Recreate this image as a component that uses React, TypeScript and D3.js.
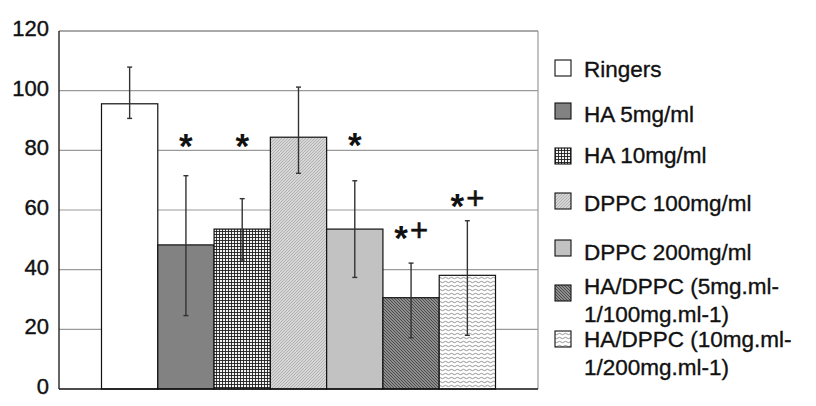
import React from "react";
import * as d3 from "d3";

// ---- data ----
const categories = [
  "Ringers",
  "HA 5mg/ml",
  "HA 10mg/ml",
  "DPPC 100mg/ml",
  "DPPC 200mg/ml",
  "HA/DPPC (5mg.ml-1/100mg.ml-1)",
  "HA/DPPC (10mg.ml-1/200mg.ml-1)",
];
const legendLines = [
  ["Ringers"],
  ["HA 5mg/ml"],
  ["HA 10mg/ml"],
  ["DPPC 100mg/ml"],
  ["DPPC 200mg/ml"],
  ["HA/DPPC (5mg.ml-", "1/100mg.ml-1)"],
  ["HA/DPPC (10mg.ml-", "1/200mg.ml-1)"],
];
const means = [95.6, 48.3, 53.6, 84.4, 53.6, 30.6, 38.1];
const errHigh = [107.9, 71.5, 63.8, 101.2, 69.8, 42.2, 56.4];
const errLow = [90.7, 24.6, 43.2, 72.3, 37.4, 17.2, 18.0];
const annotations = ["", "*", "*", "", "*", "*+", "*+"];
const annotationLevels = [0, 83.8, 83.8, 0, 84.1, 53.0, 63.7];
const yTicks = [0, 20, 40, 60, 80, 100, 120];

// ---- layout (not data) ----
const W = 816;
const H = 406;
const PL = 59;
const PR = 538;
const PT = 31;
const PB = 389;
const legendBaseY = [76.7, 121.7, 163, 210.7, 260, 294, 347];
const legendBoxY = [60, 103, 148, 193, 240, 285, 331];
const legendLineGap = [0, 0, 0, 0, 0, 27.5, 27.5];
const fills = [
  "#ffffff",
  "#828282",
  "url(#pGrid)",
  "url(#pLightHatch)",
  "#c2c2c2",
  "url(#pDarkHatch)",
  "url(#pWave)",
];
const FONT = "'Liberation Sans', Arial, Helvetica, sans-serif";

export default function App() {
  const x = d3
    .scaleBand<string>()
    .domain(categories)
    .range([PL, PR])
    .paddingInner(0)
    .paddingOuter(0.755);
  const y = d3.scaleLinear().domain([0, 120]).range([PB, PT]);
  const bw = x.bandwidth();

  return (
    <svg
      width={W}
      height={H}
      style={{ position: "absolute", left: 0, top: 0, background: "#fff" }}
      fontFamily={FONT}
    >
      <defs>
        <pattern id="pGrid" width="3" height="3" patternUnits="userSpaceOnUse">
          <rect width="3" height="3" fill="#f2f2f2" />
          <path d="M0 0.5 H3 M0.5 0 V3" stroke="#1e1e1e" strokeWidth="0.9" />
        </pattern>
        <pattern id="pLightHatch" width="3" height="3" patternUnits="userSpaceOnUse">
          <rect width="3" height="3" fill="#d6d6d6" />
          <path d="M0 3 L3 0 M-1 1 L1 -1 M2 4 L4 2" stroke="#a2a2a2" strokeWidth="0.7" />
        </pattern>
        <pattern id="pDarkHatch" width="3" height="3" patternUnits="userSpaceOnUse">
          <rect width="3" height="3" fill="#8e8e8e" />
          <path d="M0 0 L3 3 M-1 2 L1 4 M2 -1 L4 1" stroke="#3a3a3a" strokeWidth="0.8" />
        </pattern>
        <pattern id="pWave" width="6" height="4" patternUnits="userSpaceOnUse">
          <rect width="6" height="4" fill="#ffffff" />
          <path d="M0 2 Q1.5 0.6 3 2 T6 2" fill="none" stroke="#888" strokeWidth="0.9" />
        </pattern>
      </defs>

      {/* gridlines */}
      {yTicks
        .filter((t) => t > 0 && t < 120)
        .map((t) => (
          <line
            key={"g" + t}
            x1={PL}
            x2={PR}
            y1={y(t)}
            y2={y(t)}
            stroke="#9a9a9a"
            strokeWidth={1.2}
          />
        ))}
      {/* frame */}
      <line x1={PL} x2={PR} y1={PT} y2={PT} stroke="#555" strokeWidth={1.2} />
      <line x1={PR} x2={PR} y1={PT} y2={PB} stroke="#9a9a9a" strokeWidth={1.2} />

      {/* bars */}
      {categories.map((c, i) => (
        <rect
          key={"b" + i}
          x={x(c)}
          y={y(means[i])}
          width={bw}
          height={PB - y(means[i])}
          fill={fills[i]}
          stroke="#111"
          strokeWidth={1.2}
        />
      ))}

      {/* error bars */}
      {categories.map((c, i) => {
        const cx = (x(c) as number) + bw / 2;
        return (
          <g key={"e" + i} stroke="#333" strokeWidth={1.4}>
            <line x1={cx} x2={cx} y1={y(errHigh[i])} y2={y(errLow[i])} />
            <line x1={cx - 2.5} x2={cx + 2.5} y1={y(errHigh[i])} y2={y(errHigh[i])} />
            <line x1={cx - 2.5} x2={cx + 2.5} y1={y(errLow[i])} y2={y(errLow[i])} />
          </g>
        );
      })}

      {/* axes */}
      <line x1={PL} x2={PL} y1={PT} y2={PB} stroke="#111" strokeWidth={1.3} />
      <line x1={PL} x2={PR} y1={PB} y2={PB} stroke="#111" strokeWidth={1.3} />

      {/* y tick labels */}
      {yTicks.map((t) => (
        <text
          key={"t" + t}
          x={49}
          y={y(t) + 5}
          textAnchor="end"
          fontSize={22}
          fill="#111"
          stroke="#111"
          strokeWidth={0.4}
        >
          {t}
        </text>
      ))}

      {/* annotations */}
      {categories.map((c, i) => {
        const a = annotations[i];
        if (!a) return null;
        const cx = (x(c) as number) + bw / 2;
        const cy = y(annotationLevels[i]);
        const hasPlus = a.includes("+");
        const sx = hasPlus ? cx - 10 : cx;
        return (
          <g key={"a" + i} fill="#111">
            <text x={sx} y={cy + 19} textAnchor="middle" fontSize={35} fontWeight="bold">
              *
            </text>
            {hasPlus && (
              <text
                x={cx + 8}
                y={cy + 10.5}
                textAnchor="middle"
                fontSize={31}
                stroke="#111"
                strokeWidth={0.6}
              >
                +
              </text>
            )}
          </g>
        );
      })}

      {/* legend */}
      {legendLines.map((lines, i) => (
        <g key={"l" + i}>
          <rect
            x={555}
            y={legendBoxY[i]}
            width={16}
            height={16}
            fill={fills[i]}
            stroke="#111"
            strokeWidth={1.1}
          />
          {lines.map((ln, j) => (
            <text
              key={j}
              x={584}
              y={legendBaseY[i] + j * legendLineGap[i]}
              fontSize={22.5}
              fill="#111"
              stroke="#111"
              strokeWidth={0.35}
            >
              {ln}
            </text>
          ))}
        </g>
      ))}
    </svg>
  );
}
